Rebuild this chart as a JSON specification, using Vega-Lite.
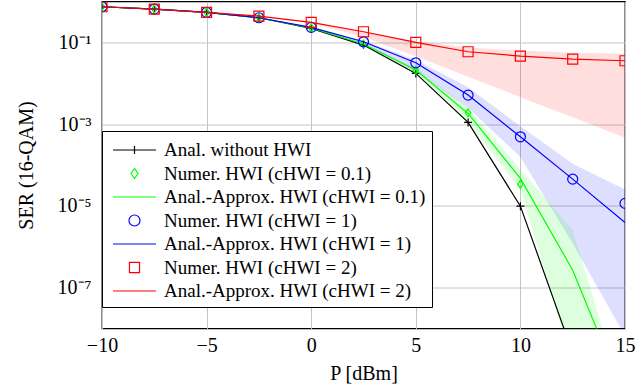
{
  "$schema": "https://vega.github.io/schema/vega-lite/v6.json",
  "width": 523,
  "height": 327,
  "autosize": {"type": "none"},
  "padding": {"left": 102, "top": 1.5, "right": 15, "bottom": 56.5},
  "config": {
    "font": "Liberation Serif",
    "view": {"stroke": "black", "strokeWidth": 1.3},
    "axis": {
      "domain": false, "ticks": false, "gridColor": "#c4c4c4", "gridWidth": 1, "gridOpacity": 1,
      "labelFont": "Liberation Serif", "labelFontSize": 20, "labelColor": "black",
      "titleFont": "Liberation Serif", "titleFontSize": 20, "titleFontWeight": "normal", "titleColor": "black"
    }
  },
  "datasets": {
    "pts": [
      {"P": -10, "series": "Anal. without HWI", "v": 0.7437},
      {"P": -7.5, "series": "Anal. without HWI", "v": 0.6533},
      {"P": -5, "series": "Anal. without HWI", "v": 0.5427},
      {"P": -2.5, "series": "Anal. without HWI", "v": 0.40},
      {"P": 0, "series": "Anal. without HWI", "v": 0.2203},
      {"P": 2.5, "series": "Anal. without HWI", "v": 0.0859},
      {"P": 5, "series": "Anal. without HWI", "v": 0.01742},
      {"P": 7.5, "series": "Anal. without HWI", "v": 0.001102},
      {"P": 10, "series": "Anal. without HWI", "v": 9.84e-6},
      {"P": 12.5, "series": "Anal. without HWI", "v": 2.5e-9},

      {"P": -10, "series": "Numer. HWI (cHWI = 0.1)", "v": 0.7437},
      {"P": -7.5, "series": "Numer. HWI (cHWI = 0.1)", "v": 0.6533},
      {"P": -5, "series": "Numer. HWI (cHWI = 0.1)", "v": 0.5427},
      {"P": -2.5, "series": "Numer. HWI (cHWI = 0.1)", "v": 0.40},
      {"P": 0, "series": "Numer. HWI (cHWI = 0.1)", "v": 0.2265},
      {"P": 2.5, "series": "Numer. HWI (cHWI = 0.1)", "v": 0.0912},
      {"P": 5, "series": "Numer. HWI (cHWI = 0.1)", "v": 0.0210},
      {"P": 7.5, "series": "Numer. HWI (cHWI = 0.1)", "v": 0.00189},
      {"P": 10, "series": "Numer. HWI (cHWI = 0.1)", "v": 3.4e-5},

      {"P": -10, "series": "Anal.-Approx. HWI (cHWI = 0.1)", "v": 0.7437},
      {"P": -7.5, "series": "Anal.-Approx. HWI (cHWI = 0.1)", "v": 0.6533},
      {"P": -5, "series": "Anal.-Approx. HWI (cHWI = 0.1)", "v": 0.5427},
      {"P": -2.5, "series": "Anal.-Approx. HWI (cHWI = 0.1)", "v": 0.40},
      {"P": 0, "series": "Anal.-Approx. HWI (cHWI = 0.1)", "v": 0.2265},
      {"P": 2.5, "series": "Anal.-Approx. HWI (cHWI = 0.1)", "v": 0.0912},
      {"P": 5, "series": "Anal.-Approx. HWI (cHWI = 0.1)", "v": 0.0210},
      {"P": 7.5, "series": "Anal.-Approx. HWI (cHWI = 0.1)", "v": 0.00182},
      {"P": 10, "series": "Anal.-Approx. HWI (cHWI = 0.1)", "v": 4.7e-5},
      {"P": 12.5, "series": "Anal.-Approx. HWI (cHWI = 0.1)", "v": 2.67e-7},
      {"P": 15, "series": "Anal.-Approx. HWI (cHWI = 0.1)", "v": 2e-10},

      {"P": -10, "series": "Numer. HWI (cHWI = 1)", "v": 0.7437},
      {"P": -7.5, "series": "Numer. HWI (cHWI = 1)", "v": 0.6533},
      {"P": -5, "series": "Numer. HWI (cHWI = 1)", "v": 0.5427},
      {"P": -2.5, "series": "Numer. HWI (cHWI = 1)", "v": 0.40},
      {"P": 0, "series": "Numer. HWI (cHWI = 1)", "v": 0.2328},
      {"P": 2.5, "series": "Numer. HWI (cHWI = 1)", "v": 0.1034},
      {"P": 5, "series": "Numer. HWI (cHWI = 1)", "v": 0.03167},
      {"P": 7.5, "series": "Numer. HWI (cHWI = 1)", "v": 0.00513},
      {"P": 10, "series": "Numer. HWI (cHWI = 1)", "v": 4.9e-4},
      {"P": 12.5, "series": "Numer. HWI (cHWI = 1)", "v": 4.51e-5},
      {"P": 15, "series": "Numer. HWI (cHWI = 1)", "v": 1.15e-5},

      {"P": -10, "series": "Anal.-Approx. HWI (cHWI = 1)", "v": 0.7437},
      {"P": -7.5, "series": "Anal.-Approx. HWI (cHWI = 1)", "v": 0.6533},
      {"P": -5, "series": "Anal.-Approx. HWI (cHWI = 1)", "v": 0.5427},
      {"P": -2.5, "series": "Anal.-Approx. HWI (cHWI = 1)", "v": 0.40},
      {"P": 0, "series": "Anal.-Approx. HWI (cHWI = 1)", "v": 0.2328},
      {"P": 2.5, "series": "Anal.-Approx. HWI (cHWI = 1)", "v": 0.1034},
      {"P": 5, "series": "Anal.-Approx. HWI (cHWI = 1)", "v": 0.03167},
      {"P": 7.5, "series": "Anal.-Approx. HWI (cHWI = 1)", "v": 0.00513},
      {"P": 10, "series": "Anal.-Approx. HWI (cHWI = 1)", "v": 4.9e-4},
      {"P": 12.5, "series": "Anal.-Approx. HWI (cHWI = 1)", "v": 4.51e-5},
      {"P": 15, "series": "Anal.-Approx. HWI (cHWI = 1)", "v": 3.93e-6},

      {"P": -10, "series": "Numer. HWI (cHWI = 2)", "v": 0.7437},
      {"P": -7.5, "series": "Numer. HWI (cHWI = 2)", "v": 0.6533},
      {"P": -5, "series": "Numer. HWI (cHWI = 2)", "v": 0.5427},
      {"P": -2.5, "series": "Numer. HWI (cHWI = 2)", "v": 0.44},
      {"P": 0, "series": "Numer. HWI (cHWI = 2)", "v": 0.3088},
      {"P": 2.5, "series": "Numer. HWI (cHWI = 2)", "v": 0.1817},
      {"P": 5, "series": "Numer. HWI (cHWI = 2)", "v": 0.1},
      {"P": 7.5, "series": "Numer. HWI (cHWI = 2)", "v": 0.0589},
      {"P": 10, "series": "Numer. HWI (cHWI = 2)", "v": 0.0462},
      {"P": 12.5, "series": "Numer. HWI (cHWI = 2)", "v": 0.039},
      {"P": 15, "series": "Numer. HWI (cHWI = 2)", "v": 0.0355},

      {"P": -10, "series": "Anal.-Approx. HWI (cHWI = 2)", "v": 0.7437},
      {"P": -7.5, "series": "Anal.-Approx. HWI (cHWI = 2)", "v": 0.6533},
      {"P": -5, "series": "Anal.-Approx. HWI (cHWI = 2)", "v": 0.5427},
      {"P": -2.5, "series": "Anal.-Approx. HWI (cHWI = 2)", "v": 0.44},
      {"P": 0, "series": "Anal.-Approx. HWI (cHWI = 2)", "v": 0.3088},
      {"P": 2.5, "series": "Anal.-Approx. HWI (cHWI = 2)", "v": 0.1817},
      {"P": 5, "series": "Anal.-Approx. HWI (cHWI = 2)", "v": 0.1},
      {"P": 7.5, "series": "Anal.-Approx. HWI (cHWI = 2)", "v": 0.0589},
      {"P": 10, "series": "Anal.-Approx. HWI (cHWI = 2)", "v": 0.0462},
      {"P": 12.5, "series": "Anal.-Approx. HWI (cHWI = 2)", "v": 0.039},
      {"P": 15, "series": "Anal.-Approx. HWI (cHWI = 2)", "v": 0.0355}
    ],
    "bands": [
      {"P": -10, "c": "2", "lo": 0.7437, "hi": 0.7437},
      {"P": -7.5, "c": "2", "lo": 0.6533, "hi": 0.6533},
      {"P": -5, "c": "2", "lo": 0.5427, "hi": 0.5427},
      {"P": -2.5, "c": "2", "lo": 0.43, "hi": 0.44},
      {"P": 0, "c": "2", "lo": 0.295, "hi": 0.3088},
      {"P": 2.5, "c": "2", "lo": 0.1349, "hi": 0.1905},
      {"P": 5, "c": "2", "lo": 0.0457, "hi": 0.107},
      {"P": 7.5, "c": "2", "lo": 0.01445, "hi": 0.0750},
      {"P": 10, "c": "2", "lo": 0.00457, "hi": 0.0630},
      {"P": 12.5, "c": "2", "lo": 0.00148, "hi": 0.0560},
      {"P": 15, "c": "2", "lo": 4.62e-4, "hi": 0.0530},

      {"P": -10, "c": "1", "lo": 0.7437, "hi": 0.7437},
      {"P": -7.5, "c": "1", "lo": 0.6533, "hi": 0.6533},
      {"P": -5, "c": "1", "lo": 0.5427, "hi": 0.5427},
      {"P": -2.5, "c": "1", "lo": 0.40, "hi": 0.40},
      {"P": 0, "c": "1", "lo": 0.228, "hi": 0.238},
      {"P": 2.5, "c": "1", "lo": 0.093, "hi": 0.11},
      {"P": 5, "c": "1", "lo": 0.019, "hi": 0.0372},
      {"P": 7.5, "c": "1", "lo": 0.0025, "hi": 0.00794},
      {"P": 10, "c": "1", "lo": 1.58e-4, "hi": 8.9e-4},
      {"P": 12.5, "c": "1", "lo": 1.2e-6, "hi": 1.07e-4},
      {"P": 15, "c": "1", "lo": 6.6e-9, "hi": 2.5e-5},

      {"P": -10, "c": "0.1", "lo": 0.7437, "hi": 0.7437},
      {"P": -7.5, "c": "0.1", "lo": 0.6533, "hi": 0.6533},
      {"P": -5, "c": "0.1", "lo": 0.5427, "hi": 0.5427},
      {"P": -2.5, "c": "0.1", "lo": 0.40, "hi": 0.40},
      {"P": 0, "c": "0.1", "lo": 0.22, "hi": 0.2265},
      {"P": 2.5, "c": "0.1", "lo": 0.087, "hi": 0.095},
      {"P": 5, "c": "0.1", "lo": 0.0174, "hi": 0.024},
      {"P": 7.5, "c": "0.1", "lo": 0.0011, "hi": 0.00251},
      {"P": 10, "c": "0.1", "lo": 2.5e-5, "hi": 7.9e-5},
      {"P": 12.5, "c": "0.1", "lo": 1.26e-9, "hi": 2.5e-6},
      {"P": 15, "c": "0.1", "lo": 1e-12, "hi": 1.6e-10}
    ]
  },
  "encoding": {
    "x": {
      "field": "P", "type": "quantitative",
      "scale": {"domain": [-10, 15], "nice": false, "zero": false},
      "axis": {"values": [-10, -5, 0, 5, 10, 15], "title": "P [dBm]", "labelPadding": 7, "titlePadding": 8, "labelFlush": false}
    },
    "y": {
      "field": "v", "type": "quantitative",
      "scale": {"type": "log", "domain": [1e-8, 1], "nice": false},
      "axis": {
        "values": [1e-7, 1e-5, 1e-3, 1e-1],
        "labelExpr": "datum.value < 1e-6 ? '10⁻⁷' : datum.value < 1e-4 ? '10⁻⁵' : datum.value < 1e-2 ? '10⁻³' : '10⁻¹'",
        "title": "SER (16-QAM)", "labelPadding": 11, "titlePadding": 21
      }
    }
  },
  "layer": [
    {
      "data": {"name": "bands"},
      "transform": [{"filter": "datum.c == '2'"}],
      "mark": {"type": "area", "color": "#ff0000", "fillOpacity": 0.13, "clip": true},
      "encoding": {
        "y": {"field": "hi", "type": "quantitative", "scale": {"type": "log", "domain": [1e-8, 1], "nice": false},
          "axis": {"values": [1e-7, 1e-5, 1e-3, 1e-1],
            "labelExpr": "datum.value < 1e-6 ? '10⁻⁷' : datum.value < 1e-4 ? '10⁻⁵' : datum.value < 1e-2 ? '10⁻³' : '10⁻¹'",
            "title": "SER (16-QAM)", "labelPadding": 11, "titlePadding": 21}},
        "y2": {"field": "lo"}
      }
    },
    {
      "data": {"name": "bands"},
      "transform": [{"filter": "datum.c == '1'"}],
      "mark": {"type": "area", "color": "#0000ff", "fillOpacity": 0.13, "clip": true},
      "encoding": {
        "y": {"field": "hi", "type": "quantitative", "scale": {"type": "log", "domain": [1e-8, 1], "nice": false},
          "axis": {"values": [1e-7, 1e-5, 1e-3, 1e-1],
            "labelExpr": "datum.value < 1e-6 ? '10⁻⁷' : datum.value < 1e-4 ? '10⁻⁵' : datum.value < 1e-2 ? '10⁻³' : '10⁻¹'",
            "title": "SER (16-QAM)", "labelPadding": 11, "titlePadding": 21}},
        "y2": {"field": "lo"}
      }
    },
    {
      "data": {"name": "bands"},
      "transform": [{"filter": "datum.c == '0.1'"}],
      "mark": {"type": "area", "color": "#00ff00", "fillOpacity": 0.13, "clip": true},
      "encoding": {
        "y": {"field": "hi", "type": "quantitative", "scale": {"type": "log", "domain": [1e-8, 1], "nice": false},
          "axis": {"values": [1e-7, 1e-5, 1e-3, 1e-1],
            "labelExpr": "datum.value < 1e-6 ? '10⁻⁷' : datum.value < 1e-4 ? '10⁻⁵' : datum.value < 1e-2 ? '10⁻³' : '10⁻¹'",
            "title": "SER (16-QAM)", "labelPadding": 11, "titlePadding": 21}},
        "y2": {"field": "lo"}
      }
    },
    {
      "data": {"name": "pts"},
      "transform": [{"filter": "datum.series == 'Anal. without HWI'"}],
      "mark": {"type": "line", "color": "black", "strokeWidth": 1.2, "clip": true}
    },
    {
      "data": {"name": "pts"},
      "transform": [{"filter": "datum.series == 'Anal. without HWI'"}],
      "mark": {"type": "point", "shape": "M-1,0H1M0,-1V1", "size": 64, "filled": false, "color": "black", "strokeWidth": 1.2, "opacity": 1, "clip": true}
    },
    {
      "data": {"name": "pts"},
      "transform": [{"filter": "datum.series == 'Numer. HWI (cHWI = 0.1)'"}],
      "mark": {"type": "point", "shape": "M0,-1L0.7,0L0,1L-0.7,0Z", "size": 64, "filled": false, "color": "#00ff00", "strokeWidth": 1.2, "opacity": 1, "clip": true}
    },
    {
      "data": {"name": "pts"},
      "transform": [{"filter": "datum.series == 'Anal.-Approx. HWI (cHWI = 0.1)'"}],
      "mark": {"type": "line", "color": "#00ff00", "strokeWidth": 1.2, "clip": true}
    },
    {
      "data": {"name": "pts"},
      "transform": [{"filter": "datum.series == 'Numer. HWI (cHWI = 1)'"}],
      "mark": {"type": "point", "shape": "circle", "size": 100, "filled": false, "color": "#0000ff", "strokeWidth": 1.2, "opacity": 1, "clip": true}
    },
    {
      "data": {"name": "pts"},
      "transform": [{"filter": "datum.series == 'Anal.-Approx. HWI (cHWI = 1)'"}],
      "mark": {"type": "line", "color": "#0000ff", "strokeWidth": 1.2, "clip": true}
    },
    {
      "data": {"name": "pts"},
      "transform": [{"filter": "datum.series == 'Numer. HWI (cHWI = 2)'"}],
      "mark": {"type": "point", "shape": "square", "size": 100, "filled": false, "color": "#ff0000", "strokeWidth": 1.2, "opacity": 1, "clip": true}
    },
    {
      "data": {"name": "pts"},
      "transform": [{"filter": "datum.series == 'Anal.-Approx. HWI (cHWI = 2)'"}],
      "mark": {"type": "line", "color": "#ff0000", "strokeWidth": 1.2, "clip": true}
    },
    {
      "data": {"name": "pts"},
      "mark": {"type": "point", "filled": false, "opacity": 0, "clip": true},
      "encoding": {
        "color": {
          "field": "series", "type": "nominal",
          "scale": {
            "domain": ["Anal. without HWI", "Numer. HWI (cHWI = 0.1)", "Anal.-Approx. HWI (cHWI = 0.1)", "Numer. HWI (cHWI = 1)", "Anal.-Approx. HWI (cHWI = 1)", "Numer. HWI (cHWI = 2)", "Anal.-Approx. HWI (cHWI = 2)"],
            "range": ["black", "#00ff00", "#00ff00", "#0000ff", "#0000ff", "#ff0000", "#ff0000"]
          },
          "legend": {"title": null, "orient": "none", "legendX": 0, "legendY": 129.5, "padding": 6, "fillColor": "white", "strokeColor": "black", "cornerRadius": 0,
            "labelFont": "Liberation Serif", "labelFontSize": 19, "labelColor": "black", "labelLimit": 500, "rowPadding": 0.5,
            "symbolSize": 576, "symbolStrokeWidth": 1.2, "symbolOffset": 13.5, "labelOffset": 16.5, "symbolOpacity": 1}
        },
        "shape": {
          "field": "series", "type": "nominal",
          "scale": {
            "domain": ["Anal. without HWI", "Numer. HWI (cHWI = 0.1)", "Anal.-Approx. HWI (cHWI = 0.1)", "Numer. HWI (cHWI = 1)", "Anal.-Approx. HWI (cHWI = 1)", "Numer. HWI (cHWI = 2)", "Anal.-Approx. HWI (cHWI = 2)"],
            "range": ["M-1.79,0H1.79M0,-0.33V0.33", "M0,-0.42L0.29,0L0,0.42L-0.29,0Z", "M-1.79,0H1.79", "M-0.46,0A0.46,0.46,0,1,0,0.46,0A0.46,0.46,0,1,0,-0.46,0Z", "M-1.79,0H1.79", "M-0.42,-0.42H0.42V0.42H-0.42Z", "M-1.79,0H1.79"]
          },
          "legend": {"title": null, "orient": "none", "legendX": 0, "legendY": 129.5, "padding": 6, "fillColor": "white", "strokeColor": "black", "cornerRadius": 0,
            "labelFont": "Liberation Serif", "labelFontSize": 19, "labelColor": "black", "labelLimit": 500, "rowPadding": 0.5,
            "symbolSize": 576, "symbolStrokeWidth": 1.2, "symbolOffset": 13.5, "labelOffset": 16.5, "symbolOpacity": 1}
        }
      }
    }
  ]
}
